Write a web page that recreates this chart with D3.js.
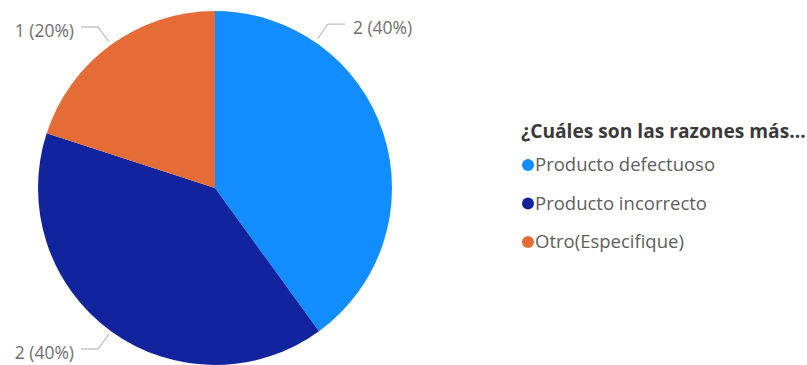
<!DOCTYPE html>
<html>
<head>
<meta charset="utf-8">
<script src="https://cdn.jsdelivr.net/npm/d3@7"></script>
<style>
  html, body { margin: 0; padding: 0; background: #ffffff; }
  svg { display: block; font-family: "Open Sans", "Noto Sans", sans-serif; }
</style>
</head>
<body>
<svg id="chart" width="807" height="365"></svg>
<script>
// Survey answers: counts per reason
const categories = ["Producto defectuoso", "Producto incorrecto", "Otro(Especifique)"];
const counts = [2, 2, 1];
const colors = ["#118DFF", "#12239E", "#E66C37"];
const legendTitle = "¿Cuáles son las razones más...";
// where along each slice its leader line starts (0 = start, 1 = end)
const labelAnchor = [0.24, 0.5, 0.5];

const svg = d3.select("#chart");
const cx = 215, cy = 188, radius = 177;

const total = d3.sum(counts);
const data = categories.map((c, i) => ({ name: c, value: counts[i], color: colors[i], anchor: labelAnchor[i] }));

const pie = d3.pie().value(d => d.value).sort(null);
const arc = d3.arc().innerRadius(0).outerRadius(radius);
const arcs = pie(data);

const g = svg.append("g").attr("transform", `translate(${cx},${cy})`);

g.selectAll("path.slice")
  .data(arcs)
  .join("path")
  .attr("class", "slice")
  .attr("d", arc)
  .attr("fill", d => d.data.color);

// leader lines and labels
const pt = (a, r) => [Math.sin(a) * r, -Math.cos(a) * r];
const labels = g.selectAll("g.lbl").data(arcs).join("g").attr("class", "lbl");

labels.each(function(d) {
  const a = d.startAngle + (d.endAngle - d.startAngle) * d.data.anchor;
  const p0 = pt(a, radius + 4);
  const p1 = pt(a, radius + 22);
  const right = Math.sin(a) >= 0;
  const p2 = [p1[0] + (right ? 17 : -17), p1[1]];
  const sel = d3.select(this);
  sel.append("polyline")
    .attr("points", [p0, p1, p2].map(p => p.join(",")).join(" "))
    .attr("fill", "none")
    .attr("stroke", "#AAAAAA")
    .attr("stroke-width", 1);
  const pct = Math.round(d.data.value / total * 100);
  sel.append("text")
    .attr("x", p2[0] + (right ? 8 : -7))
    .attr("y", p2[1] + 4)
    .attr("dy", "0.35em")
    .attr("text-anchor", right ? "start" : "end")
    .attr("fill", "#6f6f6f")
    .attr("font-size", 17.5)
    .text(`${d.data.value} (${pct}%)`);
});

// legend
const legend = svg.append("g").attr("transform", "translate(521,0)");
legend.append("text")
  .attr("x", 0)
  .attr("y", 138)
  .attr("font-size", 19.2)
  .attr("font-weight", "bold")
  .attr("fill", "#3b3a39")
  .text(legendTitle);

const items = legend.selectAll("g.item")
  .data(data)
  .join("g")
  .attr("class", "item")
  .attr("transform", (d, i) => `translate(0,${165 + i * 38.5})`);

items.append("circle")
  .attr("cx", 7)
  .attr("cy", 0)
  .attr("r", 6)
  .attr("fill", d => d.color);

items.append("text")
  .attr("x", 14)
  .attr("y", 0)
  .attr("dy", "0.35em")
  .attr("font-size", 18.5)
  .attr("fill", "#605E5C")
  .text(d => d.name);
</script>
</body>
</html>
